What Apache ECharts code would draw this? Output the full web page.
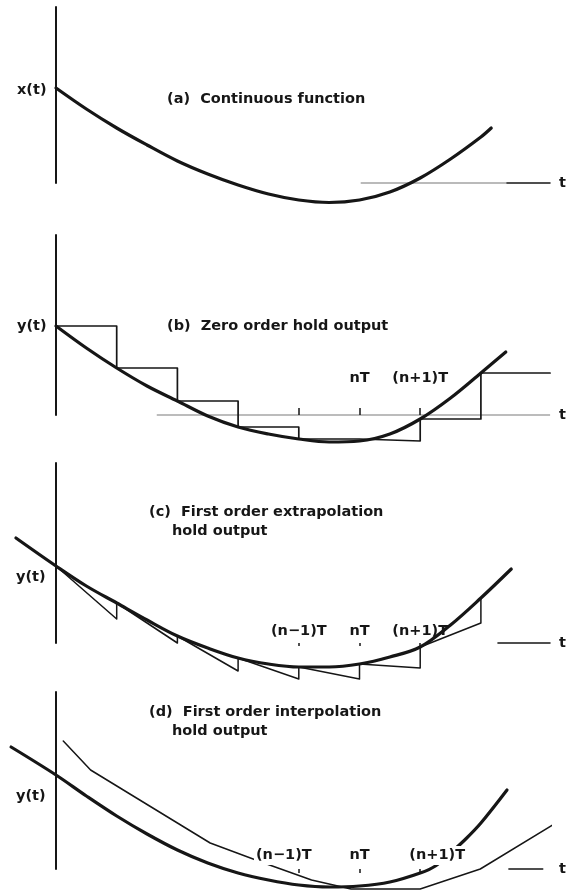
<!DOCTYPE html>
<html>
<head>
<meta charset="utf-8">
<title>Hold circuits</title>
<script src="https://cdn.jsdelivr.net/npm/echarts@6/dist/echarts.min.js"></script>
<style>
  html, body { margin: 0; padding: 0; background: #fff; }
  #chart { width: 568px; height: 894px; }
</style>
</head>
<body>
<div id="chart"></div>
<script>
// Time is measured in sampling periods T, amplitude in arbitrary units above the t axis.

// Sampling instants marked on the t axis
const tickTimes = [4, 5, 6];
const tickNames = ['(n\u22121)T', 'nT', '(n+1)T'];

// (a) continuous function x(t)
const curveA = [[0, 9.5], [0.5, 7.4], [1, 5.5], [1.5, 3.8], [2, 2.2], [2.5, 0.9], [3, -0.2], [3.5, -1.1],
  [4, -1.7], [4.5, -1.95], [5, -1.7], [5.5, -0.9], [6, 0.5], [6.5, 2.4], [7, 4.6], [7.17, 5.5]];
const axisGrayA = [5.02, 7.43];
const axisDarkA = [7.43, 8.14];

// (b) zero order hold
const curveB = [[0, 8.9], [0.5, 6.7], [1, 4.7], [1.5, 2.9], [2, 1.4], [2.5, -0.1], [3, -1.2], [3.5, -1.9],
  [4, -2.4], [4.5, -2.7], [5, -2.6], [5.5, -1.9], [6, -0.4], [6.5, 1.7], [7, 4.2], [7.41, 6.3]];
const zohLevelsB = [8.9, 4.7, 1.4, -1.2, -2.4, -2.6, -0.4, 4.2];
const zohEndB = 8.14;
const axisB = [1.66, 8.14];

// (c) first order extrapolation hold
const curveC = [[-0.66, 10.5], [0, 7.7], [0.5, 5.7], [1, 4.0], [1.5, 2.3], [2, 0.7], [2.5, -0.5], [3, -1.5],
  [3.5, -2.1], [4, -2.4], [4.5, -2.4], [5, -2.1], [5.5, -1.4], [6, -0.4], [6.5, 1.8], [7, 4.5], [7.5, 7.4]];
const extrapStartC = [7.7, 4.0, 0.7, -1.5, -2.4, -2.1, -0.4, 4.5];
const extrapEndC = [2.4, 0.0, -2.8, -3.6, -3.6, -2.5, 2.0];
const axisC = [7.28, 8.14];

// (d) first order interpolation hold
const curveD = [[-0.74, 12.2], [0, 9.4], [0.5, 7.3], [1, 5.3], [1.5, 3.5], [2, 1.9], [2.5, 0.6], [3, -0.4],
  [3.5, -1.1], [4, -1.6], [4.5, -1.8], [5, -1.7], [5.5, -1.3], [6, -0.4], [6.25, 0.3], [6.5, 1.6],
  [6.75, 3.0], [7, 4.6], [7.43, 7.9]];
const interpD = [[0.12, 12.8], [0.57, 9.9], [2.54, 2.6], [3.38, 0.7], [4.21, -1.1], [4.86, -2.0],
  [6.0, -2.0], [6.99, 0.0], [8.18, 4.4]];
const axisD = [7.46, 8.02];

const captions = ['(a)  Continuous function', '(b)  Zero order hold output',
  '(c)  First order extrapolation', '(d)  First order interpolation'];
const captionTail = 'hold output';
const ordinateNames = ['x(t)', 'y(t)', 'y(t)', 'y(t)'];
const abscissaName = 't';

// ---- drawing ----
const FONT = 'DejaVu Sans';
const INK = '#161616';
const TEXT = { fontFamily: FONT, fontWeight: 'bold', fontSize: 14.5, color: INK };
const T_MIN = -0.9;
const T_MAX = 8.14;

const panels = [
  { top: 7, height: 176, yMax: 17.6 },
  { top: 235, height: 180, yMax: 18 },
  { top: 463, height: 180, yMax: 18 },
  { top: 692, height: 177, yMax: 17.7 }
];

function zohPath(levels, tEnd) {
  const pts = [];
  levels.forEach((v, k) => {
    pts.push([k, v]);
    pts.push([k + 1 < levels.length ? k + 1 : tEnd, v]);
  });
  return pts;
}

function extrapPath(starts, ends) {
  const pts = [];
  for (let k = 0; k < ends.length; k++) {
    pts.push([k, starts[k]], [k + 1, ends[k]]);
  }
  pts.push([ends.length, starts[ends.length]]);
  return pts;
}

function segment(span) {
  return [[span[0], 0], [span[1], 0]];
}

function line(idx, data, width, extra) {
  return Object.assign({
    type: 'line', xAxisIndex: idx, yAxisIndex: idx, data: data,
    symbol: 'none', clip: false, silent: true, animation: false,
    lineStyle: { color: INK, width: width, cap: 'round', join: 'round' }, z: 2
  }, extra || {});
}

const tickName = v => tickNames[tickTimes.indexOf(v)];

function xAxisFor(i) {
  const base = {
    gridIndex: i, type: 'value', min: T_MIN, max: T_MAX, z: 10,
    axisLine: { show: false, onZero: false }, splitLine: { show: false },
    name: abscissaName, nameLocation: 'end', nameGap: 9,
    nameTextStyle: Object.assign({}, TEXT, { verticalAlign: 'middle' }),
    axisTick: { show: false }, axisLabel: { show: false }
  };
  if (i === 1) {
    base.axisTick = { show: true, customValues: tickTimes, inside: true, length: 7,
      lineStyle: { color: INK, width: 1.5 } };
    base.axisLabel = { show: true, customValues: tickTimes.slice(1), inside: true, margin: 29,
      formatter: tickName, fontFamily: FONT, fontWeight: 'bold', fontSize: 14.5, color: INK };
  } else if (i === 2) {
    base.axisTick = { show: true, customValues: tickTimes, inside: false, length: 3,
      lineStyle: { color: INK, width: 1.5 } };
    base.axisLabel = { show: true, customValues: tickTimes, inside: true, margin: 4,
      formatter: tickName, fontFamily: FONT, fontWeight: 'bold', fontSize: 14.5, color: INK };
  } else if (i === 3) {
    base.axisTick = { show: true, customValues: tickTimes, inside: false, length: 4,
      lineStyle: { color: INK, width: 1.5 } };
    base.axisLabel = {
      show: true, customValues: tickTimes, inside: true, margin: 4,
      formatter: v => {
        const k = tickTimes.indexOf(v);
        if (k === 0) return '{p|' + tickNames[k] + '}{g| }';
        if (k === 2) return '{g2| }{p|' + tickNames[k] + '}';
        return '{p|' + tickNames[k] + '}';
      },
      rich: {
        p: { fontFamily: FONT, fontWeight: 'bold', fontSize: 14.5, color: INK,
             backgroundColor: '#fff', padding: [2, 2, 2, 2] },
        g: { width: 30 },
        g2: { width: 34 }
      }
    };
  }
  return base;
}

const titles = [];
const capPos = [[167, 92], [167, 319], [149, 505], [149, 705]];
const ordPos = [[17, 83], [17, 319], [16, 570], [16, 789]];
captions.forEach((c, i) => {
  titles.push({ text: c, left: capPos[i][0], top: capPos[i][1] });
  titles.push({ text: ordinateNames[i], left: ordPos[i][0], top: ordPos[i][1] });
});
titles.push({ text: captionTail, left: 172, top: 524 });
titles.push({ text: captionTail, left: 172, top: 724 });

// grid spans t from T_MIN to T_MAX so that t = 0 falls at x = 56 px
const PX_PER_T = 60.7;
const gridLeft = 56 + T_MIN * PX_PER_T;
const gridWidth = (T_MAX - T_MIN) * PX_PER_T;

const option = {
  backgroundColor: '#fff',
  animation: false,
  title: titles.map(t => Object.assign(t, { padding: 0, textStyle: TEXT })),
  grid: panels.map(p => ({ left: gridLeft, width: gridWidth, top: p.top, height: p.height })),
  xAxis: panels.map((p, i) => xAxisFor(i)),
  yAxis: panels.map((p, i) => ({
    gridIndex: i, type: 'value', min: 0, max: p.yMax,
    axisLine: { show: true, onZero: true, lineStyle: { color: INK, width: 2 } },
    axisTick: { show: false }, axisLabel: { show: false }, splitLine: { show: false }
  })),
  series: [
    // (a)
    line(0, segment(axisGrayA), 1.5, { lineStyle: { color: '#a3a3a3', width: 1.5 } }),
    line(0, segment(axisDarkA), 1.3),
    line(0, curveA, 3.2, { smooth: 0.35, z: 3 }),
    // (b)
    line(1, segment(axisB), 1.2, { lineStyle: { color: '#7a7a7a', width: 1.2 } }),
    line(1, zohPath(zohLevelsB, zohEndB), 1.7),
    line(1, curveB, 3.2, { smooth: 0.35, z: 3 }),
    // (c)
    line(2, segment(axisC), 1.3),
    line(2, extrapPath(extrapStartC, extrapEndC), 1.5),
    line(2, curveC, 3.2, { smooth: 0.35, z: 3 }),
    // (d)
    line(3, segment(axisD), 1.3),
    line(3, interpD, 1.5),
    line(3, curveD, 3.2, { smooth: 0.35, z: 3 })
  ]
};

const chart = echarts.init(document.getElementById('chart'), null, { renderer: 'canvas' });
chart.setOption(option);
</script>
</body>
</html>
